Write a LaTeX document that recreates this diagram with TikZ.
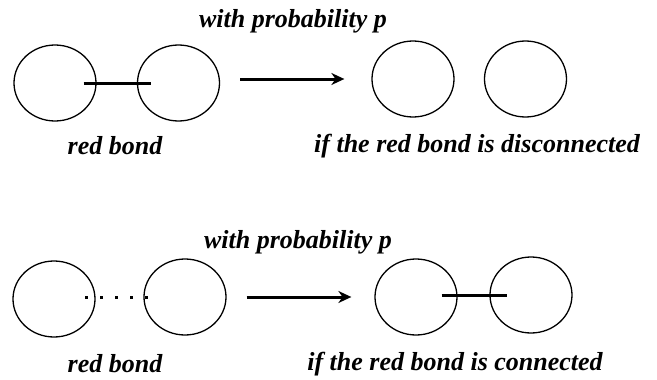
\documentclass[tikz,border=0pt]{standalone}
\usepackage{fontspec}
\setmainfont{Liberation Serif}
\usetikzlibrary{shapes.geometric,arrows.meta,calc}
\begin{document}
\begin{tikzpicture}[x=1pt,y=-1pt,
  ring/.style={draw,ellipse,line width=1.3pt,minimum width=82pt,minimum height=76pt,inner sep=0pt},
  bond/.style={line width=3pt},
  dotbond/.style={line width=3pt,dash pattern=on 3pt off 12pt},
  flow/.style={line width=3pt,-{Stealth[length=13pt,width=12pt]}},
  lab/.style={font=\fontsize{26}{30}\selectfont\bfseries\itshape,inner sep=0pt}]
\useasboundingbox (0,0) rectangle (657,380);
% top row
\node[ring] (a1) at (55,83) {};
\node[ring] (a2) at (178.5,83) {};
\node[ring] (a3) at (413,79) {};
\node[ring] (a4) at (525.5,79) {};
\draw[bond] ($(a1.east)+(-13,0)$) -- ($(a2.west)+(14,0)$);
\draw[flow] ($(a2.east)+(20,-4)$) -- ($(a3.west)+(-27,0)$);
\node[lab] (t1) at (293,21) {with probability p};
\node[lab] (t2) at (115,146) {red bond};
\node[lab] (t3) at (477,146) {if the red bond is disconnected};
% bottom row
\node[ring] (b1) at (54,299) {};
\node[ring] (b2) at (185,297) {};
\node[ring] (b3) at (416,297) {};
\node[ring] (b4) at (531,295) {};
\draw[dotbond] ($(b1.east)+(-10.5,-2)$) -- ($(b2.west)+(5,0)$);
\draw[flow] ($(b2.east)+(20,0)$) -- ($(b3.west)+(-23,0)$);
\draw[bond] ($(b3.east)+(-16,-2)$) -- ($(b4.west)+(18,0)$);
\node[lab] (u1) at (298,242) {with probability p};
\node[lab] (u2) at (115,364) {red bond};
\node[lab] (u3) at (455,364) {if the red bond is connected};
\end{tikzpicture}
\end{document}
